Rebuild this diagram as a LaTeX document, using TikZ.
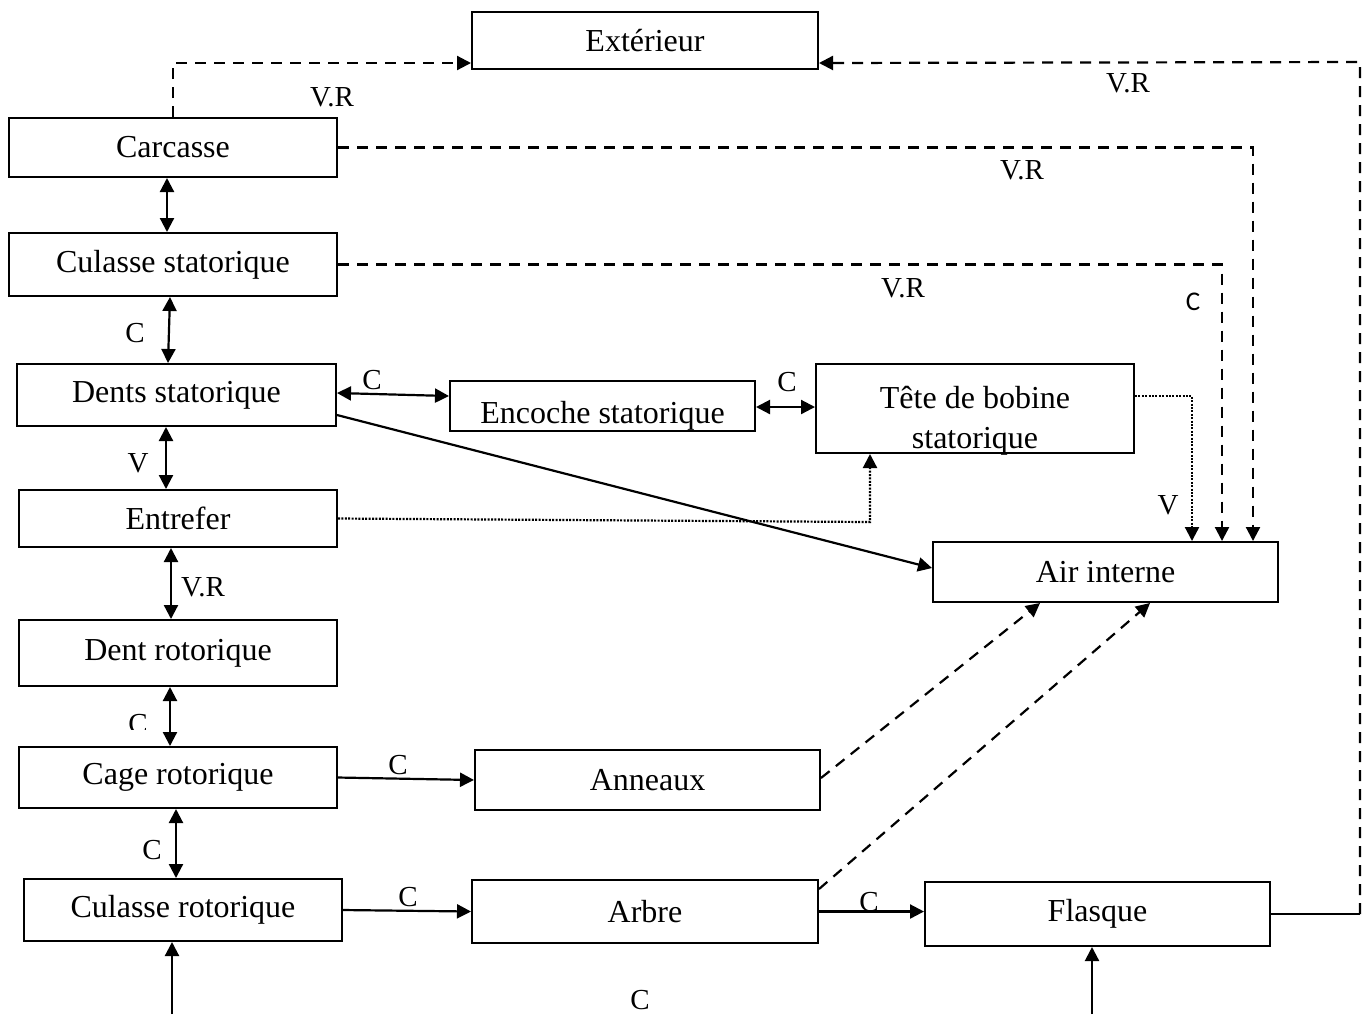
\documentclass[tikz,border=0pt]{standalone}
\usepackage{fontspec}
\setmainfont{Liberation Serif}
\newfontfamily\sansC{Carlito}
\usetikzlibrary{arrows.meta}
\begin{document}
\begin{tikzpicture}[x=0.5pt,y=-0.5pt,
 box/.style={draw,line width=1pt,fill=white,inner sep=0pt,font=\fontsize{16}{18}\selectfont},
 txt/.style={inner sep=0pt,font=\fontsize{16}{18}\selectfont},
 conn/.style={line width=1.1pt},
 tip/.style={-{Triangle[length=7pt,width=7pt]}},
 both/.style={{Triangle[length=7pt,width=7pt]}-{Triangle[length=7pt,width=7pt]}},
 dsh/.style={dash pattern=on 5.5pt off 4pt},
 dotl/.style={dash pattern=on 1pt off 0.7pt},
 lbl/.style={font=\fontsize{14.5}{16}\selectfont,inner sep=0pt}]
\path[use as bounding box] (0,0) rectangle (1368,1014);

% boxes
\node[box,minimum width=173pt,minimum height=28.5pt] (ext) at (645,40.5) {Extérieur};
\node[box,minimum width=164pt,minimum height=29.5pt] (carc) at (173,147.5) {Carcasse};
\node[box,minimum width=164pt,minimum height=31.5pt] (culs) at (173,264.5) {Culasse statorique};
\node[box,minimum width=159.5pt,minimum height=31pt] (dents) at (176.5,395) {Dents statorique};
\node[box,minimum width=159pt,minimum height=28.5pt] (entre) at (178,518.5) {Entrefer};
\node[box,minimum width=159pt,minimum height=33pt] (dentr) at (178,653) {Dent rotorique};
\node[box,minimum width=159pt,minimum height=30.5pt] (cage) at (178,777.5) {Cage rotorique};
\node[box,minimum width=159pt,minimum height=31pt] (culr) at (183,910) {Culasse rotorique};
\node[box,minimum width=173pt,minimum height=31.5pt] (arbre) at (645,911.5) {Arbre};
\node[box,minimum width=172.5pt,minimum height=32pt] (flasque) at (1097.5,914) {Flasque};
\node[box,minimum width=172.5pt,minimum height=30pt] (anneaux) at (647.5,780) {Anneaux};
\node[box,minimum width=172.5pt,minimum height=30pt] (air) at (1105.5,572) {Air interne};
\node[box,minimum width=152.5pt,minimum height=25pt] (encoche) at (602.5,406) {};
\node[box,minimum width=159pt,minimum height=44.5pt] (tete) at (975,408.5) {};
\begin{scope}
\clip (encoche.south west) rectangle (encoche.north east);
\node[txt] (encT) at (602.5,416) {Encoche statorique};
\end{scope}
\begin{scope}
\clip (tete.south west) rectangle (tete.north east);
\node[txt] (teteT1) at (975,398) {Tête de bobine};
\node[txt] (teteT2) at (975,441) {statorique};
\end{scope}

% dashed links to Extérieur
\draw[conn,dsh,tip] (carc.north) |- ([yshift=3.5pt]ext.south west);
\coordinate (fr) at (1360,914);
\coordinate (tr) at (1360,62);
\draw[conn] (flasque.east) -- (fr);
\draw[conn,dsh,tip] (fr) -- (tr) -- ([yshift=3.5pt]ext.south east);

% dashed / dotted links to Air interne
\draw[conn,dsh,tip] (carc.east) -| ([xshift=73.75pt]air.north);
\draw[conn,dsh,tip] (culs.east) -| ([xshift=58.25pt]air.north);
\draw[conn,dotl,tip] ([yshift=6.25pt]tete.east) -| ([xshift=43.25pt]air.north);

% vertical chain
\draw[conn,both] ([xshift=-3pt]carc.south) -- ([xshift=-3pt]culs.north);
\draw[conn,both] ([xshift=-1.5pt]culs.south) -- ([xshift=-4.25pt]dents.north);
\draw[conn,both] ([xshift=-5.25pt]dents.south) -- ([xshift=-6pt]entre.north);
\draw[conn,both] ([xshift=-3.5pt]entre.south) -- ([xshift=-3.5pt]dentr.north);
\draw[conn,both] ([xshift=-4pt]dentr.south) -- ([xshift=-4pt]cage.north);
\draw[conn,both] ([xshift=-1pt]cage.south) -- ([xshift=-3.5pt]culr.north);

\coordinate (b1) at (172,1014);
\coordinate (b2) at (1092,1014);
\draw[conn,tip] (b1) -- (b1 |- culr.south);
\draw[conn,tip] (b2) -- (b2 |- flasque.south);

% horizontal links
\draw[conn,both] ([yshift=1pt]dents.east) -- ([yshift=5pt]encoche.west);
\draw[conn,both] ([yshift=-0.5pt]encoche.east) -- ([yshift=-0.5pt]encoche.east -| tete.west);
\draw[conn,tip] ([yshift=-10pt]dents.east) -- ([yshift=2pt]air.west);
\coordinate (ec) at (870,522);
\draw[conn,dotl,tip] (entre.east) -- (ec) -- ([xshift=-52.5pt]tete.south);
\draw[conn,tip] (cage.east) -- (anneaux.west);
\draw[conn,dsh,tip] ([yshift=1pt]anneaux.east) -- ([xshift=-32.75pt]air.south);
\draw[conn,dsh,tip] ([yshift=-5pt]arbre.north east) -- ([xshift=22.25pt]air.south);
\draw[conn,tip] (culr.east) -- (arbre.west);
\draw[conn,tip] (arbre.east) -- (arbre.east -| flasque.west);

% labels
\node[lbl] (l1) at (332,97) {V.R};
\node[lbl] (l2) at (1128,83) {V.R};
\node[lbl] (l3) at (1022,170) {V.R};
\node[lbl] (l4) at (903,288) {V.R};
\node[inner sep=0pt,font=\sansC\fontsize{13.5}{15}\selectfont] (l5) at (1193,302) {C};
\node[lbl] (l6) at (1168,505) {V};
\node[lbl] (l7) at (135,333) {C};
\node[lbl] (l8) at (138,463) {V};
\node[lbl] (l9) at (203,587) {V.R};
\begin{scope}
\clip (100,700) rectangle (160,729);
\node[lbl] (l10) at (138,724) {C};
\end{scope}
\node[lbl] (l11) at (152,850) {C};
\node[lbl] (l12) at (372,380) {C};
\node[lbl] (l13) at (787,382) {C};
\node[lbl] (l14) at (398,765) {C};
\node[lbl] (l15) at (408,897) {C};
\node[lbl] (l16) at (869,902) {C};
\node[lbl] (l17) at (640,1000) {C};
\end{tikzpicture}
\end{document}
